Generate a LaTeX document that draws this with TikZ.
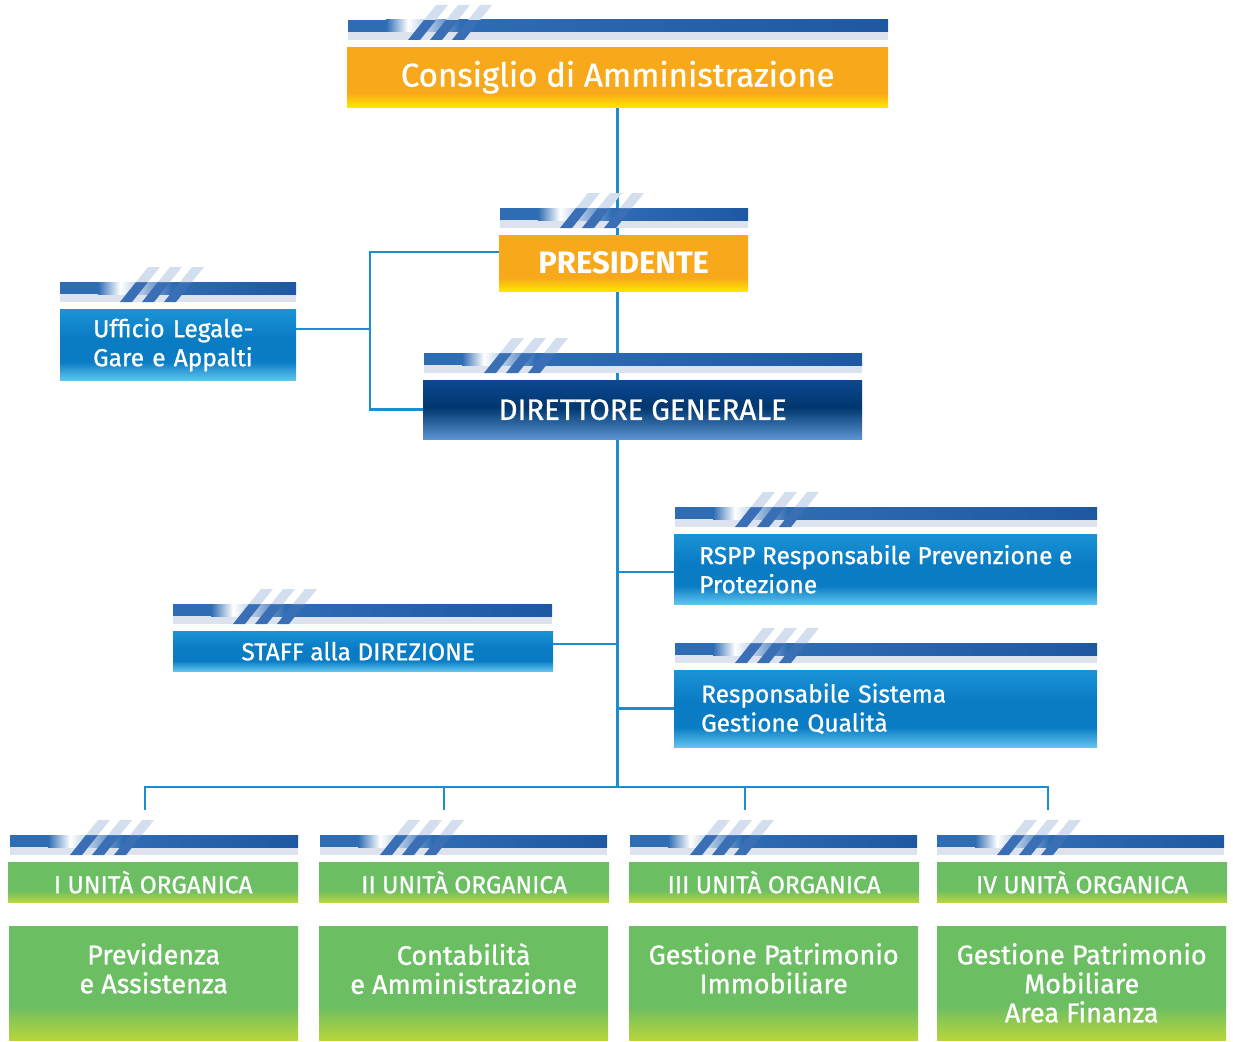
\documentclass[tikz,border=0pt]{standalone}
\usepackage{fontspec}
\setmainfont{Fira Sans}
\newfontfamily\orgfont{Fira Sans}[FakeBold=0.9]
\usetikzlibrary{calc,backgrounds}

\definecolor{cdaorange}{HTML}{F8A81B}
\definecolor{cdayellow}{HTML}{FFE600}
\definecolor{bluetop}{HTML}{1B93D6}
\definecolor{bluemid}{HTML}{0A7CC4}
\definecolor{bluebot}{HTML}{62C4EE}
\definecolor{navytop}{HTML}{0D4890}
\definecolor{navymid}{HTML}{00376F}
\definecolor{navybot}{HTML}{5A93D0}
\definecolor{greentop}{HTML}{6CBE63}
\definecolor{greenbot}{HTML}{B8D53B}
\definecolor{bandblue}{HTML}{2E6CB4}
\definecolor{banddark}{HTML}{1E58A2}
\definecolor{stripelight}{HTML}{DDE3EE}
\definecolor{slashblue}{HTML}{3A6FB6}
\definecolor{slashpale}{HTML}{D3DEEE}
\definecolor{linkblue}{HTML}{1C8DCF}

\pgfdeclareverticalshading{orangeshade}{100bp}{color(0bp)=(cdayellow); color(25bp)=(cdayellow); color(37bp)=(cdaorange); color(100bp)=(cdaorange)}
\pgfdeclareverticalshading{blueshade}{100bp}{color(0bp)=(bluebot); color(25bp)=(bluebot); color(38bp)=(bluemid); color(55bp)=(bluemid); color(75bp)=(bluetop); color(100bp)=(bluetop)}
\pgfdeclareverticalshading{navyshade}{100bp}{color(0bp)=(navybot); color(25bp)=(navybot); color(52bp)=(navymid); color(75bp)=(navytop); color(100bp)=(navytop)}
\pgfdeclareverticalshading{greenshade}{100bp}{color(0bp)=(greenbot); color(25bp)=(greenbot); color(40bp)=(greentop); color(100bp)=(greentop)}

% striped header above each box: left x, right x, top of box
\newcommand{\headbar}[3]{%
  \fill[stripelight] (#1,#3-15) rectangle (#2,#3-7);
  \fill[bandblue] (#1,#3-27) rectangle (#1+38,#3-15);
  \shade[left color=bandblue, right color=white] (#1+38,#3-27) rectangle (#1+60,#3-15);
  \shade[left color=white, right color=bandblue] (#1+60,#3-27) rectangle (#1+112,#3-15);
  \shade[left color=bandblue, right color=banddark] (#1+112,#3-27) rectangle (#2,#3-15);
  \foreach \k in {0,1,2} {
    \fill[slashblue] (#1+60+22*\k,#3-7) -- ++(12,0) -- ++(16,-20) -- ++(-12,0) -- cycle;
    \fill[slashpale] (#1+76+22*\k,#3-27) -- ++(12,0) -- ++(12,-15) -- ++(-12,0) -- cycle;
  }
}

\begin{document}
\begin{tikzpicture}[x=1pt,y=-1pt,
  box/.style={anchor=north west, inner sep=0pt, text=white, shade,
    font=\orgfont\fontsize{24.5}{29}\selectfont},
  cdabox/.style={box, shading=orangeshade, minimum width=541, minimum height=60,
    font=\orgfont\fontsize{33}{38}\selectfont},
  presbox/.style={box, shading=orangeshade, minimum width=249, minimum height=56,
    font=\fontsize{31}{36}\selectfont\bfseries},
  dgbox/.style={box, shading=navyshade, minimum width=439, minimum height=59,
    font=\orgfont\fontsize{29.5}{34}\selectfont},
  staffbox/.style={box, shading=blueshade, minimum height=#1},
  notebox/.style={box, shading=blueshade, minimum height=#1, align=left,
    inner xsep=27pt},
  unitbox/.style={box, shading=greenshade, minimum width=290, minimum height=40},
  areabox/.style={box, shading=greenshade, minimum width=289, minimum height=114},
  areatext/.style={anchor=north, inner sep=0pt, text=white, align=center,
    font=\orgfont\fontsize{27}{29}\selectfont},
  conn/.style={draw=linkblue, line width=2.5pt}]

\useasboundingbox (0,0) rectangle (1233,1041);

% headers
\headbar{348}{888}{47}
\headbar{500}{748}{235}
\headbar{60}{296}{309}
\headbar{424}{862}{380}
\headbar{675}{1097}{534}
\headbar{173}{552}{631}
\headbar{675}{1097}{670}
\headbar{10}{298}{862}
\headbar{320}{607}{862}
\headbar{630}{917}{862}
\headbar{937}{1224}{862}

% boxes
\node[cdabox] (cda) at (347,47) {Consiglio di Amministrazione};
\node[presbox] (pres) at (499,235) {PRESIDENTE};
\node[notebox=71pt, text width=170pt, inner xsep=33pt] (leg) at (60,309) {Ufficio Legale-\\Gare e Appalti};
\node[dgbox] (dg) at (423,380) {DIRETTORE GENERALE};
\node[notebox=70pt, minimum width=423, inner xsep=0pt] (rspp) at (674,534) {RSPP Responsabile Prevenzione e\\Protezione};
\node[staffbox=40pt, minimum width=380] (staff) at (173,631) {STAFF alla DIREZIONE\hspace*{10pt}};
\node[notebox=77pt, text width=369pt] (rsq) at (674,670) {Responsabile Sistema\\Gestione Qualità};

\node[unitbox] (u1) at (8,862) {I UNITÀ ORGANICA};
\node[unitbox] (u2) at (319,862) {II UNITÀ ORGANICA};
\node[unitbox] (u3) at (629,862) {III UNITÀ ORGANICA};
\node[unitbox] (u4) at (937,862) {IV UNITÀ ORGANICA};

\node[areabox] (a1) at (9,926) {};
\node[areabox] (a2) at (319,926) {};
\node[areabox] (a3) at (629,926) {};
\node[areabox] (a4) at (937,926) {};
\node[areatext] (a1t) at ([yshift=-17pt]a1.north) {Previdenza\\e Assistenza};
\node[areatext] (a2t) at ([yshift=-17pt]a2.north) {Contabilità\\e Amministrazione};
\node[areatext] (a3t) at ([yshift=-17pt]a3.north) {Gestione Patrimonio\\Immobiliare};
\node[areatext] (a4t) at ([yshift=-17pt]a4.north) {Gestione Patrimonio\\Mobiliare\\Area Finanza};

% connectors
\coordinate (bus) at (616,787);
\coordinate (lx) at (370,0);
\coordinate (legc) at ([yshift=-20pt]leg.north east);
\coordinate (rsc) at ([yshift=-3pt]rspp.west);
\coordinate (stc) at ([yshift=7pt]staff.east);
\coordinate (d1) at (145,810);
\coordinate (d2) at (444,810);
\coordinate (d3) at (745,810);
\coordinate (d4) at (1048,810);
\begin{scope}[on background layer]
  \draw[conn] (cda.south) -- (cda.south |- bus);
  \draw[conn] ([yshift=-17pt]pres.north west) -| (lx |- dg.west) -- (dg.west);
  \draw[conn] (legc) -- (lx |- legc);
  \draw[conn] (rsc) -- (cda.south |- rsc);
  \draw[conn] (stc) -- (cda.south |- stc);
  \draw[conn] (cda.south |- rsq.west) -- (rsq.west);
  \draw[conn] (d1) |- (bus) -| (d4);
  \draw[conn] (d2) -- (d2 |- bus);
  \draw[conn] (d3) -- (d3 |- bus);
\end{scope}
\end{tikzpicture}
\end{document}
